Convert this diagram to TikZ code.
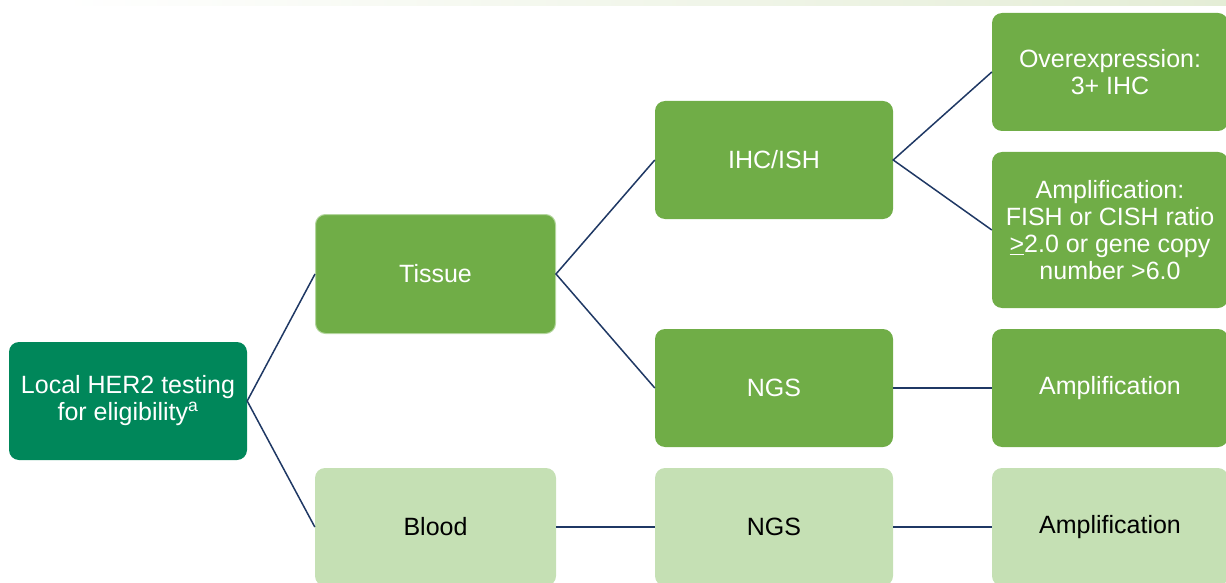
\documentclass[tikz,border=0pt]{standalone}
\usepackage{fontspec}
\setmainfont{Liberation Sans}
\definecolor{rootgreen}{RGB}{0,135,90}
\definecolor{midgreen}{RGB}{112,173,71}
\definecolor{palegreen}{RGB}{197,224,180}
\definecolor{edgeline}{RGB}{31,56,100}
\definecolor{stripgreen}{RGB}{228,237,214}
\tikzset{
  box/.style={rounded corners=10pt, minimum width=238pt, minimum height=118pt,
    align=center, font=\fontsize{25}{27}\selectfont, inner sep=2pt},
  rootbox/.style={box, fill=rootgreen, text=white},
  darkbox/.style={box, fill=midgreen, text=white},
  lightbox/.style={box, fill=palegreen, text=black},
  link/.style={draw=edgeline, line width=1.5pt}
}
\begin{document}
\begin{tikzpicture}[x=1pt, y=-1pt]
    \useasboundingbox (0,0) rectangle (1226,583);
    % faint band along the top
    \shade[left color=white, right color=stripgreen] (60,0) rectangle (1226,6);

    % Nodes, column by column
    \node[rootbox] (local) at (128, 401) {Local HER2 testing\\for eligibility\textsuperscript{a}};
    \node[darkbox, draw=palegreen!80!midgreen, line width=1pt, minimum width=240pt, minimum height=119pt] (tissue) at (435.5, 274) {Tissue};
    \node[lightbox, minimum width=241pt] (blood) at (435.5, 527) {Blood};
    \node[darkbox] (ihc) at (774, 160) {IHC/ISH};
    \node[darkbox] (ngs1) at (774, 388) {NGS};
    \node[lightbox] (ngs2) at (774, 527) {NGS};
    \node[darkbox, minimum width=236pt] (over) at (1110, 72) {Overexpression:\\3+ IHC};
    \node[darkbox, minimum width=236pt, minimum height=156pt] (ampish) at (1110, 230) {Amplification:\\FISH or CISH ratio\\\underline{>}2.0 or gene copy\\number >6.0};
    \node[darkbox, minimum width=236pt] (amp1) at (1110, 388) {Amplification};
    \node[lightbox, minimum width=236pt] (amp2) at (1110, 527) {Amplification};

    % Connectors
    \draw[link] (tissue.west) -- (local.east) -- (blood.west);
    \draw[link] (ihc.west) -- (tissue.east) -- (ngs1.west);
    \draw[link] (over.west) -- (ihc.east) -- (ampish.west);
    \draw[link] (ngs1) -- (amp1);
    \draw[link] (blood) -- (ngs2);
    \draw[link] (ngs2) -- (amp2);
\end{tikzpicture}
\end{document}
